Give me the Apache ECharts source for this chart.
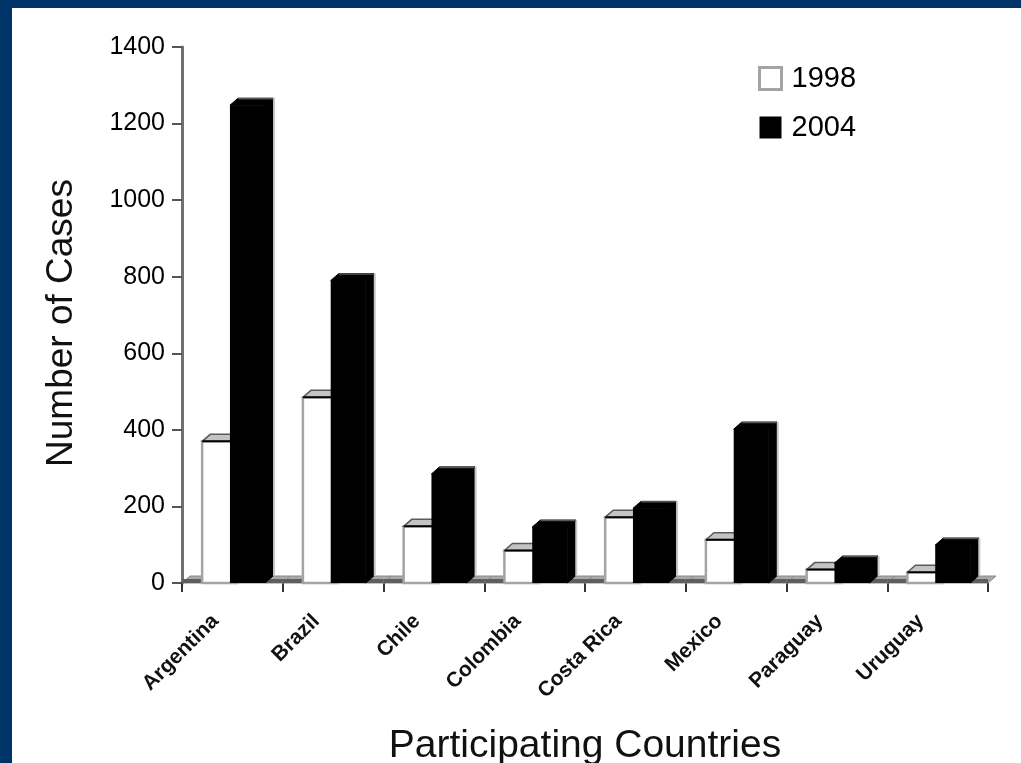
<!DOCTYPE html>
<html>
<head>
<meta charset="utf-8">
<script src="https://cdn.jsdelivr.net/npm/echarts@6/dist/echarts.min.js"></script>
<style>
  html, body { margin: 0; padding: 0; background: #003468; width: 1021px; height: 763px; overflow: hidden; }
  #chart { position: absolute; left: 12px; top: 8px; width: 1009px; height: 755px; background: #ffffff; }
</style>
</head>
<body>
<div id="chart"></div>
<script>
// Reported cases per participating country
const categories = ['Argentina', 'Brazil', 'Chile', 'Colombia', 'Costa Rica', 'Mexico', 'Paraguay', 'Uruguay'];
const cases1998 = [370, 485, 148, 85, 172, 113, 35, 28];
const cases2004 = [1248, 790, 285, 146, 195, 402, 52, 99];
const seriesNames = ['1998', '2004'];

const FONT = '"Liberation Sans", Arial, Helvetica, sans-serif';

// 3D box geometry, as fractions of the category band
const DEPTH_X = 0.08;   // depth offset to the right
const DEPTH_Y = 7;      // depth offset upward (px)
const BAR_W = 0.348;
const BAR_OFFSET = { '1998': 0.2, '2004': 0.476 };

function floorItem(params, api) {
  const i = api.value(0);
  const base = api.coord([i, 0]);
  const B = api.size([1, 0])[0];
  const s = base[0] - B / 2;
  const e = base[0] + B / 2;
  const dx = B * DEPTH_X;
  const y = base[1];
  return {
    type: 'group',
    children: [
      { type: 'polygon', shape: { points: [[s, y], [s + dx, y - DEPTH_Y], [e + dx, y - DEPTH_Y], [e, y]] },
        style: { fill: '#a9a9a9', stroke: '#8a8a8a', lineWidth: 1 } },
      { type: 'line', shape: { x1: s, y1: y - 2, x2: e, y2: y - 2 },
        style: { stroke: '#5e5e5e', lineWidth: 4 } }
    ]
  };
}

function barItem(name) {
  const white = name === '1998';
  return function (params, api) {
    const i = api.value(0);
    const v = api.value(1);
    const top = api.coord([i, v]);
    const base = api.coord([i, 0]);
    const B = api.size([1, 0])[0];
    const s = base[0] - B / 2;
    const dx = B * DEPTH_X;
    const x0 = s + B * BAR_OFFSET[name];
    const x1 = x0 + B * BAR_W;
    const yt = top[1];
    const yb = base[1];
    const topFace = [[x0, yt], [x0 + dx, yt - DEPTH_Y], [x1 + dx, yt - DEPTH_Y], [x1, yt]];
    const sideFace = [[x1, yt], [x1 + dx, yt - DEPTH_Y], [x1 + dx, yb - DEPTH_Y], [x1, yb]];
    if (white) {
      return {
        type: 'group',
        children: [
          { type: 'polygon', shape: { points: sideFace }, style: { fill: '#d8d8d8', stroke: '#888', lineWidth: 1 } },
          { type: 'polygon', shape: { points: topFace }, style: { fill: '#c4c4c4', stroke: '#5a5a5a', lineWidth: 1.5 } },
          { type: 'rect', shape: { x: x0, y: yt, width: x1 - x0, height: yb - yt },
            style: { fill: '#ffffff', stroke: '#a4a4a4', lineWidth: 2.5 } },
          { type: 'line', shape: { x1: x0, y1: yt, x2: x1, y2: yt }, style: { stroke: '#000', lineWidth: 2 } }
        ]
      };
    }
    return {
      type: 'group',
      children: [
        { type: 'polygon', shape: { points: sideFace }, style: { fill: '#000', stroke: '#000', lineWidth: 1 } },
        { type: 'line', shape: { x1: x1 + dx + 1, y1: yt - DEPTH_Y, x2: x1 + dx + 1, y2: yb - DEPTH_Y },
          style: { stroke: '#c8c8c8', lineWidth: 2 } },
        { type: 'polygon', shape: { points: topFace }, style: { fill: '#000', stroke: '#000', lineWidth: 1 } },
        { type: 'line', shape: { x1: x0 + dx, y1: yt - DEPTH_Y + 0.5, x2: x1 + dx, y2: yt - DEPTH_Y + 0.5 },
          style: { stroke: '#555', lineWidth: 1.5 } },
        { type: 'rect', shape: { x: x0, y: yt, width: x1 - x0, height: yb - yt }, style: { fill: '#000' } }
      ]
    };
  };
}

const chart = echarts.init(document.getElementById('chart'), null, { renderer: 'canvas' });

chart.setOption({
  backgroundColor: '#ffffff',
  animation: false,
  grid: { left: 170, right: 33, top: 39, bottom: 180, containLabel: false, outerBoundsMode: 'none' },
  legend: {
    orient: 'vertical',
    left: 741,
    top: 51,
    itemWidth: 22,
    itemHeight: 22,
    itemGap: 20,
    icon: 'rect',
    textStyle: { fontFamily: FONT, fontSize: 29, color: '#000', padding: [0, 0, 0, 5] },
    data: [
      { name: '1998', itemStyle: { color: '#ffffff', borderColor: '#a4a4a4', borderWidth: 3 } },
      { name: '2004', itemStyle: { color: '#000000', borderWidth: 0 } }
    ]
  },
  xAxis: {
    type: 'category',
    data: categories,
    name: 'Participating Countries',
    nameLocation: 'middle',
    nameGap: 144,
    nameTextStyle: { fontFamily: FONT, fontSize: 39, color: '#111' },
    axisLine: { show: false },
    axisTick: { show: true, length: 9, lineStyle: { color: '#333', width: 2 } },
    axisLabel: {
      rotate: 45,
      interval: 0,
      margin: 18,
      padding: [0, 24, 0, 0],
      fontFamily: FONT,
      fontSize: 21,
      fontWeight: 'bold',
      color: '#111'
    }
  },
  yAxis: {
    type: 'value',
    min: 0,
    max: 1400,
    interval: 200,
    name: 'Number of Cases',
    nameLocation: 'middle',
    nameGap: 102,
    nameTextStyle: { fontFamily: FONT, fontSize: 37, color: '#111', padding: [0, 16, 0, 0] },
    axisLine: { show: true, lineStyle: { color: '#707070', width: 3 } },
    axisTick: { show: true, length: 10, lineStyle: { color: '#555', width: 2 } },
    axisLabel: { margin: 17, fontFamily: FONT, fontSize: 25, color: '#000', formatter: v => String(v) },
    splitLine: { show: false }
  },
  series: [
    {
      name: 'floor',
      type: 'custom',
      z: 1,
      silent: true,
      renderItem: floorItem,
      encode: { x: 0, y: 1 },
      data: categories.map((c, i) => [i, 0])
    },
    {
      name: seriesNames[0],
      type: 'custom',
      z: 2,
      renderItem: barItem('1998'),
      encode: { x: 0, y: 1 },
      data: cases1998.map((v, i) => [i, v])
    },
    {
      name: seriesNames[1],
      type: 'custom',
      z: 3,
      renderItem: barItem('2004'),
      encode: { x: 0, y: 1 },
      data: cases2004.map((v, i) => [i, v])
    }
  ]
});
</script>
</body>
</html>
